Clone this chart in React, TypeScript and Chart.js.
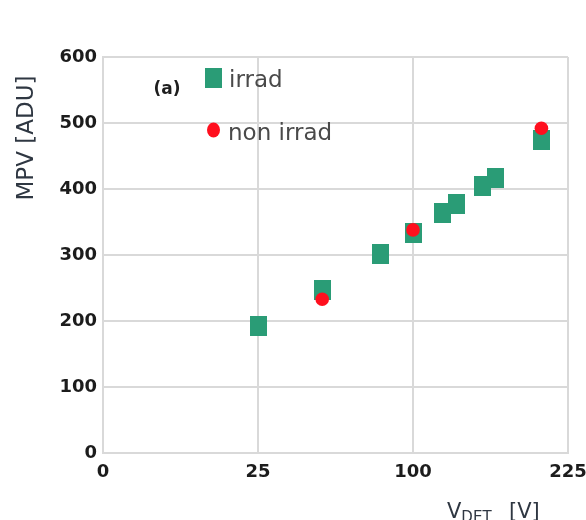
import React, { useEffect, useRef } from "react";
import { Chart, registerables } from "chart.js";

Chart.register(...registerables);

// Detector bias V_DET [V] and most probable value MPV [ADU]
const irradVoltages = [25, 50, 80, 100, 120, 130, 150, 160, 200];
const irradMpv = [192, 247, 302, 333, 364, 377, 405, 417, 474];
const nonIrradVoltages = [50, 100, 200];
const nonIrradMpv = [233, 338, 492];

// Bias axis is drawn on a square-root scale
const xTickLabels = [0, 25, 100, 225];
const yTickLabels = [0, 100, 200, 300, 400, 500, 600];

const seriesNames = ["irrad", "non irrad"];
const panelLabel = "(a)";

const GREEN = "#2a9c76";
const RED = "#ff0f1e";
const GRID = "#d9d9d9";

function makeSquare(w: number, h: number, color: string) {
  const c = document.createElement("canvas");
  c.width = w;
  c.height = h;
  const g = c.getContext("2d")!;
  g.fillStyle = color;
  g.fillRect(0, 0, w, h);
  return c;
}

const decorations = {
  id: "decorations",
  afterDatasetsDraw(chart: any) {
    const ctx: CanvasRenderingContext2D = chart.ctx;
    ctx.save();

    // y-axis title
    ctx.save();
    ctx.translate(33, 138);
    ctx.rotate(-Math.PI / 2);
    ctx.font = "23px 'DejaVu Sans'";
    ctx.fillStyle = "#2f3742";
    ctx.textAlign = "center";
    ctx.textBaseline = "alphabetic";
    ctx.fillText("MPV [ADU]", 0, 0);
    ctx.restore();

    // x-axis title with subscript
    ctx.fillStyle = "#2f3742";
    ctx.textAlign = "left";
    ctx.textBaseline = "alphabetic";
    ctx.font = "21px 'DejaVu Sans'";
    ctx.fillText("V", 447, 518);
    const vW = ctx.measureText("V").width;
    ctx.font = "15px 'DejaVu Sans'";
    ctx.fillText("DET", 447 + vW, 522);
    ctx.font = "21px 'DejaVu Sans'";
    ctx.fillText("[V]", 509, 518);

    // panel label
    ctx.font = "bold 17px 'DejaVu Sans'";
    ctx.fillStyle = "#1e1e1e";
    ctx.textAlign = "center";
    ctx.fillText(panelLabel, 167, 94);

    // legend
    const ds = chart.data.datasets;
    const sq = ds[0].pointStyle as HTMLCanvasElement;
    ctx.drawImage(sq, 205, 68, sq.width, sq.height);
    ctx.fillStyle = ds[1].backgroundColor;
    ctx.beginPath();
    ctx.ellipse(213.5, 130, 6.5, 7.5, 0, 0, Math.PI * 2);
    ctx.fill();

    ctx.font = "23px 'DejaVu Sans'";
    ctx.fillStyle = "#4a4a4a";
    ctx.textAlign = "left";
    ctx.fillText(ds[0].label, 229, 87);
    ctx.fillText(ds[1].label, 228, 140);

    ctx.restore();
  },
};

export default function App() {
  const ref = useRef<HTMLCanvasElement>(null);

  useEffect(() => {
    if (!ref.current) return;
    const square = makeSquare(17, 20, GREEN);
    const chart = new Chart(ref.current, {
      type: "scatter",
      data: {
        datasets: [
          {
            label: seriesNames[0],
            data: irradVoltages.map((v, i) => ({ x: Math.sqrt(v), y: irradMpv[i] })),
            pointStyle: square as any,
            backgroundColor: GREEN,
            borderColor: GREEN,
            order: 1,
          },
          {
            label: seriesNames[1],
            data: nonIrradVoltages.map((v, i) => ({ x: Math.sqrt(v), y: nonIrradMpv[i] })),
            pointStyle: "circle",
            pointRadius: 6.8,
            pointBorderWidth: 0,
            backgroundColor: RED,
            borderColor: RED,
            order: 0,
          },
        ],
      },
      options: {
        responsive: false,
        animation: false,
        layout: { padding: { left: 0, top: 57, right: 18, bottom: 0 } },
        plugins: { legend: { display: false }, tooltip: { enabled: false } },
        scales: {
          x: {
            type: "linear",
            min: 0,
            max: Math.sqrt(xTickLabels[xTickLabels.length - 1]),
            afterBuildTicks: (scale: any) => {
              scale.ticks = xTickLabels.map((v) => ({ value: Math.sqrt(v) }));
            },
            afterFit: (scale: any) => {
              scale.height = 67;
              scale.paddingLeft = 0;
              scale.paddingRight = 0;
            },
            grid: { color: GRID, lineWidth: 2, drawTicks: false },
            border: { color: GRID, width: 2 },
            ticks: {
              padding: 9,
              color: "#1c1c1c",
              font: { family: "'DejaVu Sans'", size: 18, weight: "bold" },
              callback: (v: any) => String(Math.round(Number(v) * Number(v))),
            },
          },
          y: {
            type: "linear",
            min: yTickLabels[0],
            max: yTickLabels[yTickLabels.length - 1],
            afterBuildTicks: (scale: any) => {
              scale.ticks = yTickLabels.map((v) => ({ value: v }));
            },
            afterFit: (scale: any) => {
              scale.width = 103;
              scale.paddingTop = 0;
              scale.paddingBottom = 0;
            },
            grid: { color: GRID, lineWidth: 2, drawTicks: false },
            border: { color: GRID, width: 2 },
            ticks: {
              padding: 6,
              color: "#1c1c1c",
              font: { family: "'DejaVu Sans'", size: 18, weight: "bold" },
            },
          },
        },
      },
      plugins: [decorations],
    });
    return () => chart.destroy();
  }, []);

  return (
    <div style={{ position: "fixed", left: 0, top: 0, width: 586, height: 520, background: "#fff" }}>
      <canvas ref={ref} width={586} height={520} />
    </div>
  );
}
